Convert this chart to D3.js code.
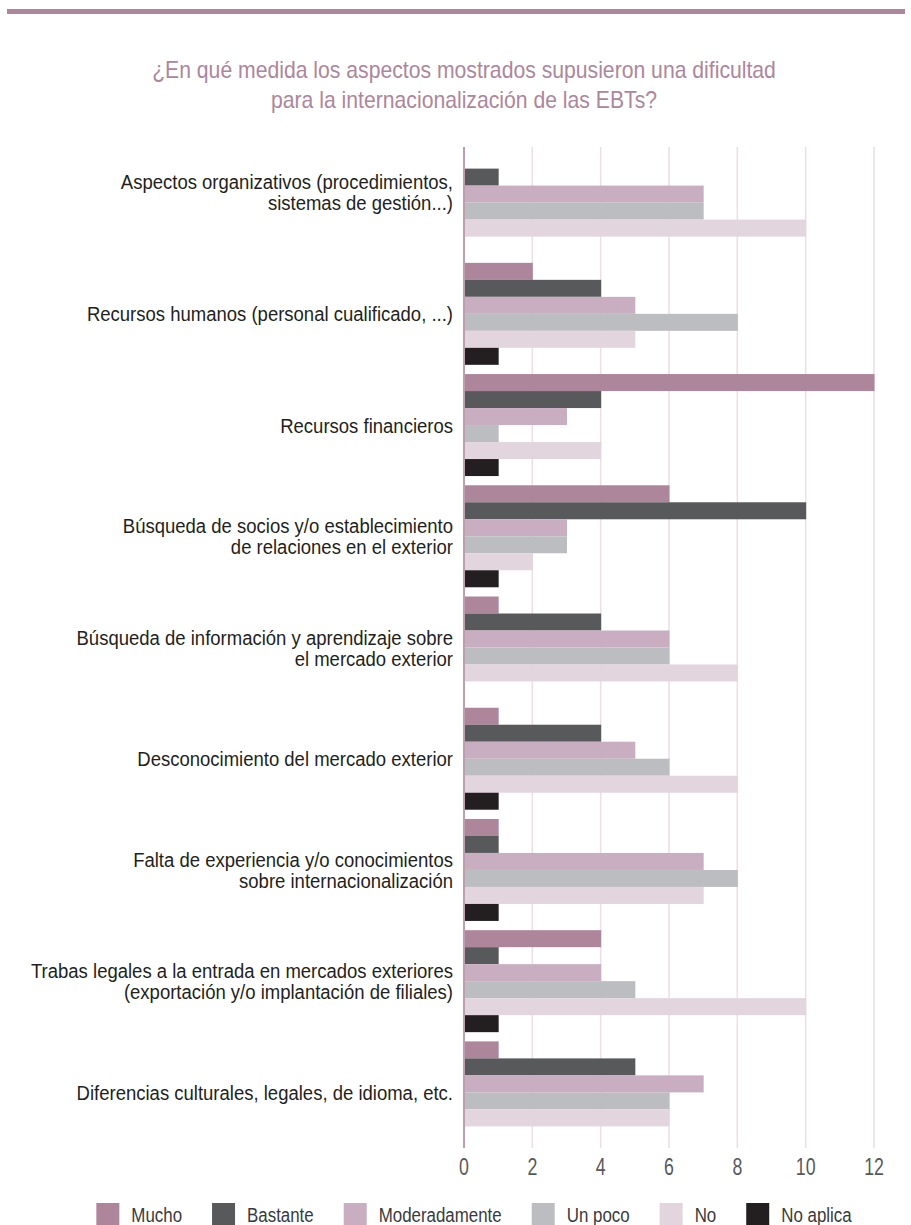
<!DOCTYPE html>
<html>
<head>
<meta charset="utf-8">
<script src="https://cdn.jsdelivr.net/npm/d3@7"></script>
<style>
  html, body { margin: 0; padding: 0; background: #ffffff; }
  svg { display: block; }
</style>
</head>
<body>
<div id="chart"></div>
<script>
// ---------- data ----------
const titleLines = [
  "¿En qué medida los aspectos mostrados supusieron una dificultad",
  "para la internacionalización de las EBTs?"
];
const categories = [
  "Aspectos organizativos (procedimientos,\nsistemas de gestión...)\n",
  "Recursos humanos (personal cualificado, ...)",
  "Recursos financieros",
  "Búsqueda de socios y/o establecimiento\nde relaciones en el exterior",
  "Búsqueda de información y aprendizaje sobre\nel mercado exterior",
  "Desconocimiento del mercado exterior",
  "Falta de experiencia y/o conocimientos\nsobre internacionalización",
  "Trabas legales a la entrada en mercados exteriores\n(exportación y/o implantación de filiales)",
  "Diferencias culturales, legales, de idioma, etc."
];
const seriesNames = ["Mucho", "Bastante", "Moderadamente", "Un poco", "No", "No aplica"];
const mucho         = [0, 2, 12, 6, 1, 1, 1, 4, 1];
const bastante      = [1, 4, 4, 10, 4, 4, 1, 1, 5];
const moderadamente = [7, 5, 3, 3, 6, 5, 7, 4, 7];
const unPoco        = [7, 8, 1, 3, 6, 6, 8, 5, 6];
const no            = [10, 5, 4, 2, 8, 8, 7, 10, 6];
const noAplica      = [0, 1, 1, 1, 0, 1, 1, 1, 0];
const tickValues = [0, 2, 4, 6, 8, 10, 12];
const seriesColors = ["#ad869b", "#58595b", "#c8aec0", "#bcbdc0", "#e2d5de", "#231f20"];

const seriesValues = [mucho, bastante, moderadamente, unPoco, no, noAplica];

// ---------- layout ----------
const W = 911, H = 1225;
const FONT = '"Liberation Sans Narrow", "Liberation Sans", Arial, sans-serif';
const plot = { left: 464, right: 874, top: 147, bottom: 1148 };

const svg = d3.select("#chart").append("svg")
  .attr("width", W).attr("height", H)
  .attr("font-family", FONT);

// text measuring helper for condensed look
const meas = svg.append("text").attr("x", -1000).attr("y", -1000);
function measure(txt, size) {
  meas.attr("font-size", size).text(txt);
  return meas.node().getComputedTextLength();
}
const labelSize = 21;
const labelScale = 316 / measure("Desconocimiento del mercado exterior", labelSize);
const titleSize = 24;
const titleScale = 624 / measure(titleLines[0], titleSize);
const legendSize = 21;
const legendScale = 123 / measure("Moderadamente", legendSize);
const tickSize = 24;
const tickScale = 0.74;
meas.remove();

// top decorative bar
svg.append("rect")
  .attr("x", 7).attr("y", 9).attr("width", 898).attr("height", 5)
  .attr("fill", "#ae869c");

// title
const title = svg.append("g");
titleLines.forEach((t, i) => {
  title.append("text")
    .attr("transform", `translate(464, ${78 + i * 30}) scale(${titleScale},1)`)
    .attr("text-anchor", "middle")
    .attr("font-size", titleSize)
    .attr("fill", "#ad869b")
    .text(t);
});

// scales
const x = d3.scaleLinear().domain([0, 12]).range([plot.left, plot.right]);
const y0 = d3.scaleBand().domain(categories).range([plot.top, plot.bottom])
  .paddingInner(0.083).paddingOuter(0.0415);
const y1 = d3.scaleBand().domain(seriesNames).range([0, y0.bandwidth()]);
const color = d3.scaleOrdinal().domain(seriesNames).range(seriesColors);

// gridlines
svg.append("g").selectAll("line")
  .data(tickValues.filter(d => d > 0))
  .join("line")
  .attr("x1", d => x(d)).attr("x2", d => x(d))
  .attr("y1", plot.top).attr("y2", plot.bottom)
  .attr("stroke", "#ecdfe6").attr("stroke-width", 1.6);

// bars
const groups = svg.append("g").selectAll("g")
  .data(categories)
  .join("g")
  .attr("transform", d => `translate(0,${y0(d)})`);

groups.selectAll("rect")
  .data((c, ci) => seriesNames.map((s, si) => ({ s, v: seriesValues[si][ci] })))
  .join("rect")
  .attr("x", x(0) + 1)
  .attr("y", d => y1(d.s))
  .attr("width", d => Math.max(0, x(d.v) - x(0) - 1 + (d.v > 0 ? 0.5 : 0)))
  .attr("height", y1.bandwidth())
  .attr("fill", d => color(d.s));

// zero axis line
svg.append("line")
  .attr("x1", x(0)).attr("x2", x(0))
  .attr("y1", plot.top).attr("y2", plot.bottom)
  .attr("stroke", "#ad869b").attr("stroke-width", 1.6);

// category labels
const lineH = 21;
svg.append("g").selectAll("text")
  .data(categories)
  .join("text")
  .attr("transform", d => `translate(453, ${y0(d) + y0.bandwidth() / 2}) scale(${labelScale},1)`)
  .attr("text-anchor", "end")
  .attr("font-size", labelSize)
  .attr("fill", "#231f20")
  .each(function (d) {
    const lines = d.split("\n");
    const n = lines.length;
    d3.select(this).selectAll("tspan")
      .data(lines)
      .join("tspan")
      .attr("x", 0)
      .attr("y", (l, i) => (i - (n - 1) / 2) * lineH + 7.5)
      .text(l => l);
  });

// x axis tick labels
svg.append("g").selectAll("text")
  .data(tickValues)
  .join("text")
  .attr("transform", d => `translate(${x(d)}, 1175) scale(${tickScale},1)`)
  .attr("text-anchor", "middle")
  .attr("font-size", tickSize)
  .attr("fill", "#58595b")
  .text(d => d3.format("d")(d));

// legend
const legend = svg.append("g");
const sw = 23, gapText = 12, gapItem = 30;
let items = [];
let cursor = 0;
const tmp = legend.append("text").attr("font-size", legendSize);
seriesNames.forEach(s => {
  tmp.text(s);
  const w = tmp.node().getComputedTextLength() * legendScale;
  items.push({ s, x: cursor, w });
  cursor += sw + gapText + w + gapItem;
});
tmp.remove();
const totalW = cursor - gapItem;
const legendStart = 474 - totalW / 2;
const li = legend.selectAll("g").data(items).join("g")
  .attr("transform", d => `translate(${legendStart + d.x}, 1203)`);
li.append("rect")
  .attr("width", sw).attr("height", 22)
  .attr("fill", d => color(d.s));
li.append("text")
  .attr("transform", `translate(${sw + gapText}, 19) scale(${legendScale},1)`)
  .attr("font-size", legendSize)
  .attr("fill", "#3a3a3c")
  .text(d => d.s);
</script>
</body>
</html>
